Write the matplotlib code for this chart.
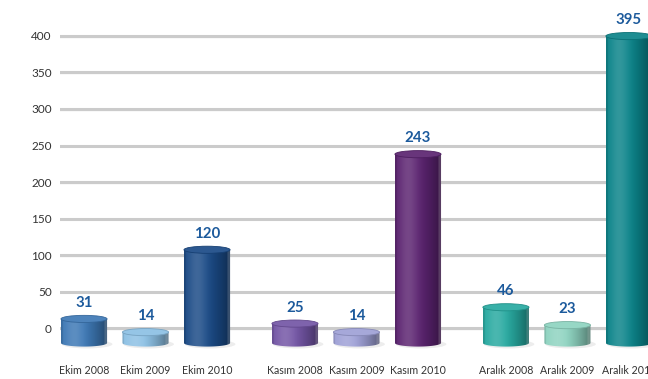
import numpy as np
import matplotlib.pyplot as plt
from matplotlib.path import Path
from matplotlib.patches import PathPatch, Ellipse
from matplotlib.colors import to_rgb

plt.rcParams['font.family'] = ['Lato', 'DejaVu Sans']

# Data
months = ["Ekim", "Kasım", "Aralık"]
years = ["2008", "2009", "2010"]
ekim_values = [31, 14, 120]
kasim_values = [25, 14, 243]
aralik_values = [46, 23, 395]
y_ticks = [0, 50, 100, 150, 200, 250, 300, 350, 400]

# Styling
ekim_colors = ["#3d78b5", "#8cc0e4", "#1a4a86"]
kasim_colors = ["#7355a5", "#9ea0d6", "#5b2370"]
aralik_colors = ["#27a9a0", "#8ed3c0", "#0a8389"]
group_values = [ekim_values, kasim_values, aralik_values]
group_colors = [ekim_colors, kasim_colors, aralik_colors]

W, H = 648, 379
fig = plt.figure(figsize=(W / 100, H / 100), dpi=100)
fig.patch.set_facecolor("white")

# Back wall with gridlines
gax = fig.add_axes([60 / W, 29 / H, 588 / W, 330 / H])
gax.set_ylim(-30.1, 421.9)
gax.set_xlim(0, 1)
for t in y_ticks:
    gax.axhline(t, color="#cbcbcb", lw=2.2, zorder=1)
    gax.axhline(t - 1.3, color="#e6e6e6", lw=1.0, zorder=0.9)
gax.set_yticks(y_ticks)
gax.set_yticklabels([str(t) for t in y_ticks], fontsize=8.5, color="#333333")
gax.tick_params(axis="y", length=0, pad=6)
gax.set_xticks([])
for s in gax.spines.values():
    s.set_visible(False)
gax.patch.set_alpha(0)

# Front layer with the cylinders
bax = fig.add_axes([0, 29 / H, 1, 330 / H])
bax.set_ylim(-9.0, 415.7)
bax.set_xlim(-1.366, 9.17)
bax.patch.set_alpha(0)
for s in bax.spines.values():
    s.set_visible(False)
bax.set_yticks([])

gap = 0.43
width = 0.75
ry = 4.6  # half height of the elliptical caps, in data units


def shade(base, n=120):
    c = np.array(to_rgb(base))
    t = np.linspace(0, 1, n)
    out = np.zeros((1, n, 3))
    for k, tt in enumerate(t):
        # highlight on the left third, darker towards the right edge
        hl = np.exp(-((tt - 0.28) / 0.2) ** 2) * 0.16
        dk = np.clip((tt - 0.45) / 0.55, 0, 1) ** 1.4 * 0.42
        col = c * (1 - dk) + (1 - c) * hl
        if tt > 0.93:
            col = col * 0.8 + np.array([0.85, 0.85, 0.85]) * 0.2
        if tt < 0.04:
            col = col * 0.88
        out[0, k] = np.clip(col, 0, 1)
    return out


xticks, xlabels = [], []
for g, (vals, cols) in enumerate(zip(group_values, group_colors)):
    for i, (v, col) in enumerate(zip(vals, cols)):
        x = g * (3 + gap) + i
        xticks.append(x)
        xlabels.append(f"{months[g]} {years[i]}")
        x0, x1 = x - width / 2, x + width / 2
        # soft floor shadow
        bax.add_patch(Ellipse((x + 0.05, -1.5), width * 1.1, ry * 2.4,
                              facecolor="#000000", alpha=0.07, lw=0, zorder=1))
        # body outline: straight sides and rounded bottom
        ang = np.linspace(np.pi, 2 * np.pi, 40)
        bottom = np.column_stack([x + width / 2 * np.cos(ang), ry * np.sin(ang)])
        verts = np.vstack([[[x0, v]], bottom, [[x1, v]], [[x0, v]]])
        codes = [Path.MOVETO] + [Path.LINETO] * (len(verts) - 2) + [Path.CLOSEPOLY]
        body = PathPatch(Path(verts, codes), facecolor="none", edgecolor="none")
        bax.add_patch(body)
        im = bax.imshow(shade(col), extent=[x0, x1, -ry, v], aspect="auto",
                        zorder=2, interpolation="bilinear")
        im.set_clip_path(body)
        # top cap
        cap_col = np.clip(np.array(to_rgb(col)) * 0.92 + 0.08, 0, 1)
        bax.add_patch(Ellipse((x, v), width, ry * 2, facecolor=cap_col,
                              edgecolor=np.array(to_rgb(col)) * 0.85, lw=0.6, zorder=3))
        bax.annotate(str(v), (x, v), xytext=(0, 8.5), textcoords="offset points",
                     ha="center", va="baseline", fontsize=10.8, fontweight="bold",
                     color="#1c5a9c", zorder=4, annotation_clip=False)

bax.set_xticks(xticks)
bax.set_xticklabels(xlabels, fontsize=7.7, color="#333333")
bax.tick_params(axis="x", length=0, pad=11)

fig.savefig("out.png", dpi=100, facecolor="white")
